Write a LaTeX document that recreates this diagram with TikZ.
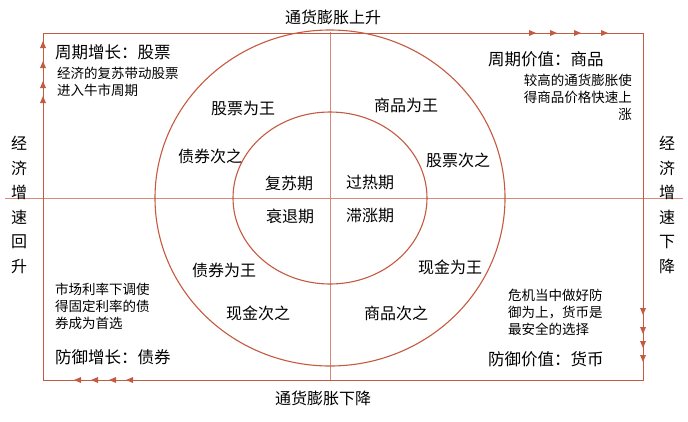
\documentclass[tikz,border=0pt]{standalone}
\usepackage{fontspec}
\setmainfont{Noto Sans CJK SC}
\begin{document}
\begin{tikzpicture}[x=1pt,y=-1pt,
  frame/.style={draw=fr,line width=1pt},
  lab/.style={font=\fontsize{16}{24.5}\selectfont,inner sep=0pt},
  big/.style={font=\fontsize{16.5}{19}\selectfont,inner sep=0pt},
  small/.style={font=\fontsize{13.5}{17}\selectfont,inner sep=0pt,align=left}]
\definecolor{fr}{RGB}{196,90,65}
\useasboundingbox (0,0) rectangle (688,421);
\draw[fr!70,line width=0.7pt] (5,198) -- (683,198);
\draw[fr!70,line width=0.7pt] (330,32) -- (330,380);
\draw[frame] (43,33) rectangle (643,380);
\draw[fr,line width=1.1pt] (330,198) ellipse [x radius=175,y radius=168];
\draw[fr,line width=1.1pt] (330,198) ellipse [x radius=97,y radius=86];
% arrow marks
\foreach \x in {532,553,577,604} \fill[fr] (\x+4,33) -- (\x-3,30) -- (\x-3,36) -- cycle;
\foreach \y in {311,330,344,358} \fill[fr] (643,\y+4) -- (640,\y-3) -- (646,\y-3) -- cycle;
\foreach \x in {78,95,113,130} \fill[fr] (\x-4,380) -- (\x+3,377) -- (\x+3,383) -- cycle;
\foreach \y in {45,65,85,100} \fill[fr] (43,\y-4) -- (40,\y+3) -- (46,\y+3) -- cycle;
% axis labels
\node[lab] (t) at (333,17) {通货膨胀上升};
\node[lab] (b) at (323,398) {通货膨胀下降};
\node[lab,align=center] (l) at (19,205) {经\\济\\增\\速\\回\\升};
\node[lab,align=center] (r) at (667,205) {经\\济\\增\\速\\下\\降};
% corners
\node[big,anchor=west] (q1) at (55,52) {周期增长：股票};
\node[small,anchor=north west] (q1t) at (57,67) {经济的复苏带动股票\\进入牛市周期};
\node[big,anchor=west] (q2) at (488,59) {周期价值：商品};
\node[small,align=right,anchor=north east] (q2t) at (632,74) {较高的通货膨胀使\\得商品价格快速上\\涨};
\node[small,anchor=north west] (q3t) at (55,283) {市场利率下调使\\得固定利率的债\\券成为首选};
\node[big,anchor=west] (q3) at (55,357) {防御增长：债券};
\node[small,anchor=north west] (q4t) at (508,289) {危机当中做好防\\御为上，货币是\\最安全的选择};
\node[big,anchor=west] (q4) at (488,359) {防御价值：货币};
% ring labels
\node[lab] (a1) at (243,108) {股票为王};
\node[lab] (a2) at (406,105) {商品为王};
\node[lab] (a3) at (210,156) {债券次之};
\node[lab] (a4) at (458,160) {股票次之};
\node[lab] (a5) at (224,270) {债券为王};
\node[lab] (a6) at (450,267) {现金为王};
\node[lab] (a7) at (258,313) {现金次之};
\node[lab] (a8) at (396,313) {商品次之};
\node[lab] (c1) at (289,183) {复苏期};
\node[lab] (c2) at (370,182) {过热期};
\node[lab] (c3) at (290,216) {衰退期};
\node[lab] (c4) at (370,216) {滞涨期};
\end{tikzpicture}
\end{document}
